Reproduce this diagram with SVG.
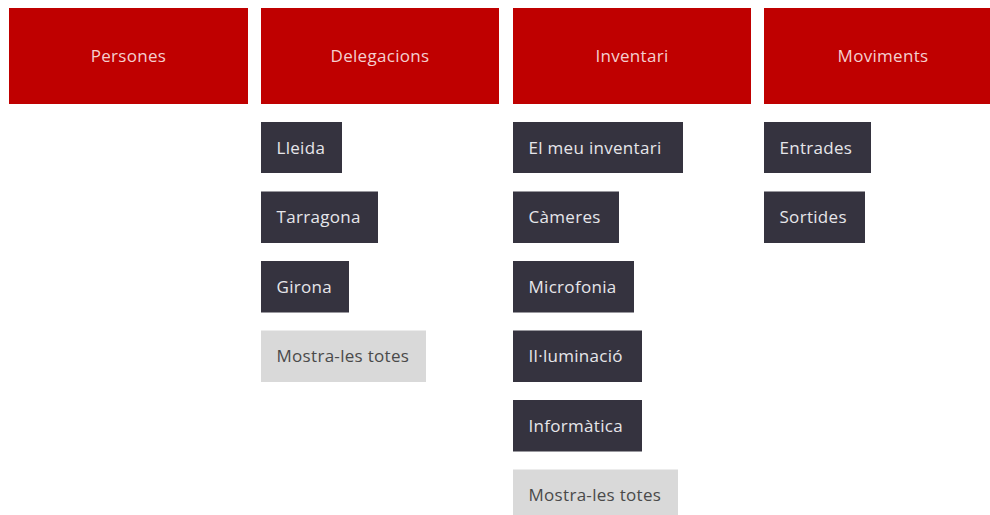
<svg xmlns="http://www.w3.org/2000/svg" width="990" height="515" viewBox="0 0 990 515">
<style>
.hdr{fill:#bf0000}
.dk{fill:#35333f}
.lt{fill:#d9d9d9}
text{font-family:"Open Sans","Noto Sans",sans-serif;font-size:17px;letter-spacing:0.3px}
.ht{fill:#f4cfcf;text-anchor:middle}
.dt{fill:#e6e6ea}
.lx{fill:#4a4a4a}
</style>
<rect width="990" height="515" fill="#ffffff"/>
<g id="persones"><rect class="hdr" x="9" y="8" width="239" height="96"/><text class="ht" x="128.5" y="62">Persones</text></g>
<g id="delegacions"><rect class="hdr" x="261" y="8" width="238" height="96"/><text class="ht" x="380" y="62">Delegacions</text></g>
<g id="inventari"><rect class="hdr" x="513" y="8" width="238" height="96"/><text class="ht" x="632" y="62">Inventari</text></g>
<g id="moviments"><rect class="hdr" x="764" y="8" width="226" height="96"/><text class="ht" x="883" y="62">Moviments</text></g>

<g id="lleida"><rect class="dk" x="261" y="122" width="81" height="51"/><text class="dt" x="276.5" y="153.5">Lleida</text></g>
<g id="tarragona"><rect class="dk" x="261" y="191.5" width="117" height="51.5"/><text class="dt" x="276.5" y="223">Tarragona</text></g>
<g id="girona"><rect class="dk" x="261" y="261" width="88" height="51.5"/><text class="dt" x="276.5" y="292.5">Girona</text></g>
<g id="mostra-delegacions"><rect class="lt" x="261" y="330.5" width="165" height="51.5"/><text class="lx" x="276.5" y="362">Mostra-les totes</text></g>

<g id="el-meu-inventari"><rect class="dk" x="513" y="122" width="170" height="51"/><text class="dt" x="528.5" y="153.5">El meu inventari</text></g>
<g id="cameres"><rect class="dk" x="513" y="191.5" width="106" height="51.5"/><text class="dt" x="528.5" y="223">Càmeres</text></g>
<g id="microfonia"><rect class="dk" x="513" y="261" width="121" height="51.5"/><text class="dt" x="528.5" y="292.5">Microfonia</text></g>
<g id="illuminacio"><rect class="dk" x="513" y="330.5" width="129" height="51.5"/><text class="dt" x="528.5" y="362">Il·luminació</text></g>
<g id="informatica"><rect class="dk" x="513" y="400" width="129" height="51.5"/><text class="dt" x="528.5" y="431.5">Informàtica</text></g>
<g id="mostra-inventari"><rect class="lt" x="513" y="469.5" width="165" height="51.5"/><text class="lx" x="528.5" y="501">Mostra-les totes</text></g>

<g id="entrades"><rect class="dk" x="764" y="122" width="107" height="51"/><text class="dt" x="779.5" y="153.5">Entrades</text></g>
<g id="sortides"><rect class="dk" x="764" y="191.5" width="101" height="51.5"/><text class="dt" x="779.5" y="223">Sortides</text></g>
<g id="connectors"></g>
</svg>
